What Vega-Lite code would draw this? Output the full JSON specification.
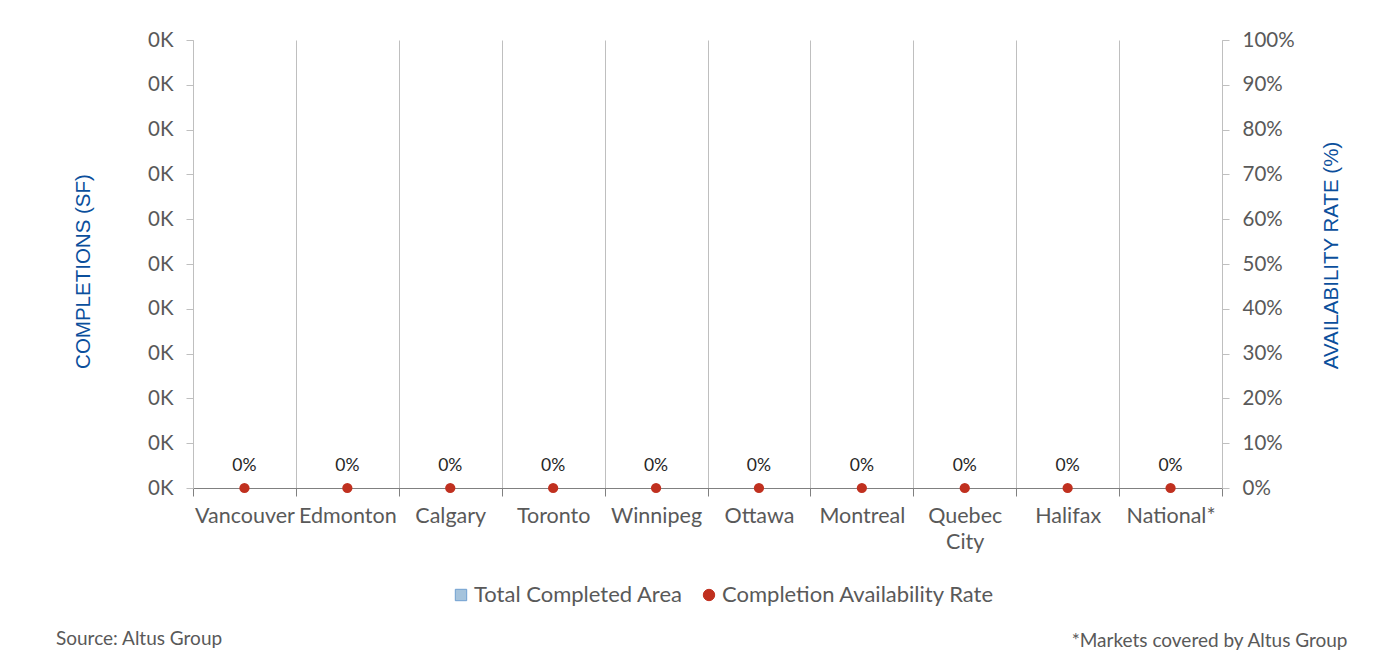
{
  "$schema": "https://vega.github.io/schema/vega-lite/v6.json",
  "width": 1029,
  "height": 448,
  "autosize": "none",
  "padding": {"left": 193, "top": 40, "right": 161, "bottom": 181},
  "background": "white",
  "config": {
    "view": {"stroke": null},
    "font": "Lato",
    "axis": {"labelFont": "Lato", "labelColor": "#595959", "labelFontSize": 20.5, "titleFont": "Liberation Sans", "titleFontWeight": "normal", "titleColor": "#0b4f9c", "titleFontSize": 20.5}
  },
  "title": {
    "text": "Source: Altus Group",
    "orient": "bottom",
    "anchor": "start",
    "frame": "group",
    "font": "Lato",
    "fontSize": 19,
    "fontWeight": "normal",
    "color": "#595959",
    "dx": -137,
    "dy": -30,
    "offset": 10
  },
  "data": {
    "values": [
      {"city": "Vancouver", "area": 0, "rate": 0},
      {"city": "Edmonton", "area": 0, "rate": 0},
      {"city": "Calgary", "area": 0, "rate": 0},
      {"city": "Toronto", "area": 0, "rate": 0},
      {"city": "Winnipeg", "area": 0, "rate": 0},
      {"city": "Ottawa", "area": 0, "rate": 0},
      {"city": "Montreal", "area": 0, "rate": 0},
      {"city": "Quebec City", "area": 0, "rate": 0},
      {"city": "Halifax", "area": 0, "rate": 0},
      {"city": "National*", "area": 0, "rate": 0}
    ]
  },
  "encoding": {
    "x": {
      "field": "city",
      "type": "nominal",
      "sort": null,
      "scale": {"paddingInner": 0, "paddingOuter": 0},
      "axis": {
        "labelAngle": 0,
        "labelFontSize": 21.5,
        "tickBand": "extent",
        "grid": true,
        "gridColor": "#bfbfbf",
        "gridWidth": 1,
        "domainColor": "#808080",
        "tickColor": "#808080",
        "tickSize": 8,
        "labelPadding": 9,
        "labelLineHeight": 26,
        "labelBaseline": "top",
        "labelExpr": "datum.value == 'Quebec City' ? ['Quebec', 'City'] : datum.value",
        "title": "*Markets covered by Altus Group",
        "titleFont": "Lato",
        "titleColor": "#595959",
        "titleFontSize": 19,
        "titleAnchor": "end",
        "titleAlign": "right",
        "titleX": 1154,
        "titleY": 158,
        "titleBaseline": "alphabetic"
      }
    }
  },
  "layer": [
    {
      "mark": {"type": "bar", "color": "#a5c3dc"},
      "encoding": {
        "y": {
          "field": "area",
          "type": "quantitative",
          "scale": {"domain": [0, 10], "nice": false},
          "axis": {
            "orient": "left",
            "values": [0, 1, 2, 3, 4, 5, 6, 7, 8, 9, 10],
            "labelExpr": "'0K'",
            "grid": false,
            "domainColor": "#bfbfbf",
            "tickColor": "#bfbfbf",
            "tickSize": 7,
            "labelPadding": 13,
            "title": "COMPLETIONS (SF)",
            "titleX": -110,
            "titleY": 231,
            "titleAngle": -90,
            "titleAlign": "center",
            "titleBaseline": "middle"
          }
        },
        "color": {
          "datum": "Total Completed Area",
          "scale": {"domain": ["Total Completed Area", "Completion Availability Rate"], "range": ["#a5c3dc", "#c0301f"]},
          "legend": {
            "orient": "none",
            "direction": "horizontal",
            "legendX": 257,
            "legendY": 544,
            "title": null,
            "labelFont": "Lato",
            "labelFontSize": 22,
            "labelColor": "#595959",
            "labelLimit": 0,
            "symbolSize": 130,
            "columnPadding": 15,
            "labelOffset": 2,
            "encode": {
              "symbols": {
                "update": {
                  "shape": {"signal": "datum.value == 'Total Completed Area' ? 'square' : 'circle'"},
                  "stroke": {"signal": "datum.value == 'Total Completed Area' ? '#6f9fd0' : '#c0301f'"},
                  "strokeWidth": {"value": 1},
                  "fillOpacity": {"value": 1}
                }
              }
            }
          }
        }
      }
    },
    {
      "mark": {"type": "point", "filled": true, "opacity": 1, "size": 105},
      "encoding": {
        "y": {
          "field": "rate",
          "type": "quantitative",
          "scale": {"domain": [0, 1], "nice": false},
          "axis": {
            "orient": "right",
            "values": [0, 0.1, 0.2, 0.3, 0.4, 0.5, 0.6, 0.7, 0.8, 0.9, 1],
            "format": ".0%",
            "grid": false,
            "domainColor": "#bfbfbf",
            "tickColor": "#bfbfbf",
            "tickSize": 7,
            "labelPadding": 13,
            "title": "AVAILABILITY RATE (%)",
            "titleX": 109,
            "titleY": 215,
            "titleAngle": -90,
            "titleAlign": "center",
            "titleBaseline": "middle"
          }
        },
        "color": {"datum": "Completion Availability Rate"}
      }
    },
    {
      "mark": {"type": "text", "dy": -22, "font": "Lato", "fontSize": 17.5, "color": "#262626"},
      "encoding": {
        "y": {"field": "rate", "type": "quantitative", "scale": {"domain": [0, 1], "nice": false}, "axis": null},
        "text": {"field": "rate", "type": "quantitative", "format": ".0%"}
      }
    }
  ],
  "resolve": {"scale": {"y": "independent"}}
}
